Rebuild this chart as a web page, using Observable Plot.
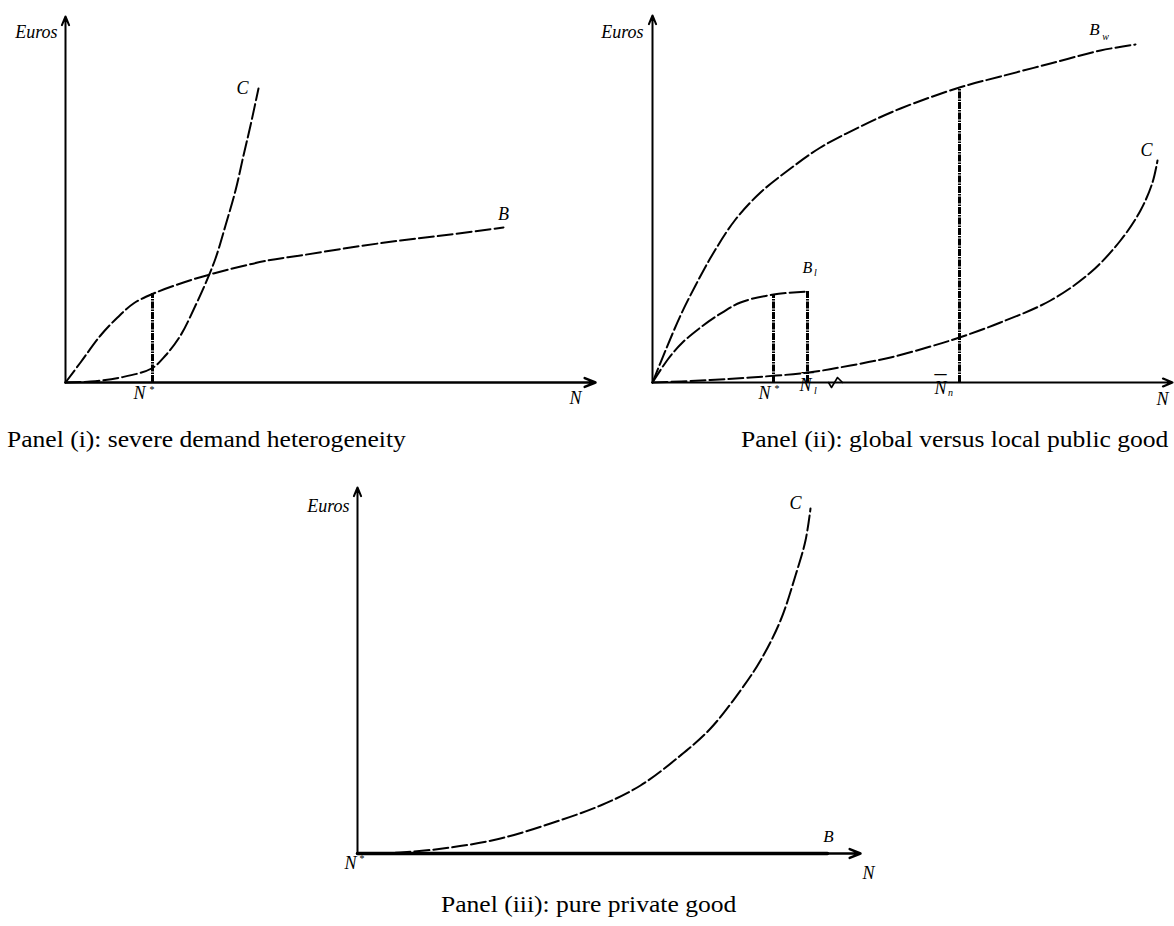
<!DOCTYPE html>
<html><head><meta charset="utf-8">
<script src="https://cdn.jsdelivr.net/npm/d3@7"></script>
<script src="https://cdn.jsdelivr.net/npm/@observablehq/plot@0.6"></script>
<style>
html,body{margin:0;padding:0;background:#fff;}
#wrap{position:relative;width:1174px;height:926px;overflow:hidden;font-family:"Liberation Serif","Times New Roman",serif;}
#wrap svg{position:absolute;left:0;top:0;}
.cap{position:absolute;font-size:24px;white-space:nowrap;color:#000;line-height:27px;transform:scaleX(1.065);transform-origin:0 0;}
</style></head><body><div id="wrap"></div>
<script>
// ---------- data (arbitrary units: N = number of members, E = euros) ----------
// Panel (i): severe demand heterogeneity
const p1Cost = [[0,0],[25,1],[55,5],[86,14],[100,27],[115,47],[130,77],[140,99],[150,124],[160,157],[170,192],[178,227],[185,257],[193,294]];
const p1Benefit = [[0,0],[15,20],[35,47],[52,65],[68,79],[88,89],[118,100],[148,109],[202,122],[235,127],[285,135],[335,142],[385,148],[438,155]];
const p1Drops = [{n:87, e:89}];
// Panel (ii): global versus local public good
const p2BenefitW = [[0,0],[13,32],[28,67],[43,97],[60,128],[83,163],[108,190],[138,214],[168,235],[208,256],[248,274],[307,295],[348,306],[398,319],[448,332],[483,338]];
const p2Cost = [[0,0],[48,2],[98,5],[156,10],[198,17],[238,25],[278,36],[307,45],[348,60],[398,82],[438,110],[468,142],[488,172],[500,200],[505,222]];
const p2BenefitL = [[0,0],[16,24],[30,40],[48,55],[65,67],[88,80],[121,88],[155,91]];
const p2Drops = [{n:121, e:88},{n:155, e:91},{n:307, e:295}];
const p2Break = [[176,0],[179,-5],[185,5],[190,0]];
// Panel (iii): pure private good
const p3Cost = [[0,0],[43,1],[93,6],[143,15],[193,30],[243,48],[283,68],[323,98],[353,125],[383,163],[403,193],[423,233],[438,278],[448,313],[453,345]];
const p3Benefit = [[0,0],[470,0]];
// captions
const captions = ["Panel (i): severe demand heterogeneity","Panel (ii): global versus local public good","Panel (iii): pure private good"];

// ---------- drawing ----------
const W = 1174, H = 926;
const FF = '"Liberation Serif","Times New Roman",serif';
const wrap = document.getElementById("wrap");
const curveStyle = {x: d => d[0], y: d => d[1], curve: "catmull-rom", stroke: "#000", strokeWidth: 2, strokeDasharray: "15,4"};
const dropStyle = {stroke: "#000", strokeWidth: 3, strokeDasharray: "7,1,1.5,1"};
const it = (size) => ({fontFamily: FF, fontStyle: "italic", fontSize: size, fill: "#000", lineAnchor: "middle"});

function axes(xMax, yMax, xw) {
  return [
    Plot.arrow([{x1:0,y1:0,x2:0,y2:yMax}], {x1:"x1",y1:"y1",x2:"x2",y2:"y2", stroke:"#000", strokeWidth:2, headLength:7, headAngle:45}),
    Plot.arrow([{x1:0,y1:0,x2:xMax,y2:0}], {x1:"x1",y1:"y1",x2:"x2",y2:"y2", stroke:"#000", strokeWidth:xw, headLength:7, headAngle:45})
  ];
}
function panel(ox, oy, xMax, yMax, xw, marks) {
  const svg = Plot.plot({
    width: W, height: H,
    marginLeft: ox, marginRight: W - ox - xMax, marginTop: oy - yMax, marginBottom: H - oy,
    x: {domain: [0, xMax], axis: null},
    y: {domain: [0, yMax], axis: null},
    style: {overflow: "visible", background: "transparent", fontFamily: FF},
    marks: [...axes(xMax, yMax, xw), ...marks]
  });
  wrap.appendChild(svg);
}
const last = a => [a[a.length-1]];
const axisLabels = (eDx, eDy, nDx, nDy) => [
  Plot.text(["Euros"], {frameAnchor: "top-left", text: d => d, textAnchor: "end", dx: eDx, dy: eDy, ...it(18)}),
  Plot.text(["N"], {frameAnchor: "bottom-right", text: d => d, textAnchor: "middle", dx: nDx, dy: nDy, ...it(18)})
];

// Panel (i)
panel(65, 382, 530, 366, 2.5, [
  Plot.line(p1Cost, curveStyle),
  Plot.line(p1Benefit, curveStyle),
  Plot.ruleX(p1Drops, {x: "n", y1: () => 0, y2: "e", ...dropStyle}),
  ...axisLabels(-8, 16, -20, 16),
  Plot.text(last(p1Cost), {x: d => d[0], y: d => d[1], text: () => "C", dx: -16, dy: 0, ...it(18)}),
  Plot.text(last(p1Benefit), {x: d => d[0], y: d => d[1], text: () => "B", dx: 0, dy: -13, ...it(18)}),
  Plot.text(p1Drops, {x: "n", y: () => 0, text: () => "N", dx: -13, dy: 11, ...it(18)}),
  Plot.text(p1Drops, {x: "n", y: () => 0, text: () => "*", dx: -1, dy: 7, ...it(10)})
]);

// Panel (ii)
panel(652, 382, 520, 367, 2.2, [
  Plot.line(p2BenefitW, curveStyle),
  Plot.line(p2Cost, curveStyle),
  Plot.line(p2BenefitL, curveStyle),
  Plot.ruleX(p2Drops, {x: "n", y1: () => 0, y2: "e", ...dropStyle}),
  Plot.line(p2Break, {x: d => d[0], y: d => d[1], stroke: "#000", strokeWidth: 1.6}),
  ...axisLabels(-9, 17, -10, 17),
  Plot.text(last(p2BenefitW), {x: d => d[0], y: d => d[1], text: () => "B", dx: -41, dy: -15, ...it(17)}),
  Plot.text(last(p2BenefitW), {x: d => d[0], y: d => d[1], text: () => "w", dx: -30, dy: -8, ...it(10)}),
  Plot.text(last(p2Cost), {x: d => d[0], y: d => d[1], text: () => "C", dx: -11, dy: -10, ...it(18)}),
  Plot.text(last(p2BenefitL), {x: d => d[0], y: d => d[1], text: () => "B", dx: 0, dy: -24, ...it(16)}),
  Plot.text(last(p2BenefitL), {x: d => d[0], y: d => d[1], text: () => "l", dx: 8, dy: -19, ...it(10)}),
  Plot.text([p2Drops[0]], {x: "n", y: () => 0, text: () => "N", dx: -9, dy: 11, ...it(18)}),
  Plot.text([p2Drops[0]], {x: "n", y: () => 0, text: () => "*", dx: 3, dy: 6, ...it(10)}),
  Plot.text([p2Drops[1]], {x: "n", y: () => 0, text: () => "N", dx: -2, dy: 3, ...it(18)}),
  Plot.text([p2Drops[1]], {x: "n", y: () => 0, text: () => "_", dx: 0, dy: -20, fontFamily: FF, fontSize: 24, lineAnchor: "middle"}),
  Plot.text([p2Drops[1]], {x: "n", y: () => 0, text: () => "l", dx: 8, dy: 8, ...it(10)}),
  Plot.text([p2Drops[2]], {x: "n", y: () => 0, text: () => "N", dx: -19, dy: 6, ...it(18)}),
  Plot.text([p2Drops[2]], {x: "n", y: () => 0, text: () => "_", dx: -19, dy: -18, fontFamily: FF, fontSize: 24, lineAnchor: "middle"}),
  Plot.text([p2Drops[2]], {x: "n", y: () => 0, text: () => "n", dx: -9, dy: 10, ...it(10)})
]);

// Panel (iii)
panel(357, 853, 503, 366, 2.5, [
  Plot.line(p3Cost, curveStyle),
  Plot.line(p3Benefit, {x: d => d[0], y: d => d[1], stroke: "#000", strokeWidth: 3.5}),
  ...axisLabels(-8, 19, 8, 20),
  Plot.text(last(p3Cost), {x: d => d[0], y: d => d[1], text: () => "C", dx: -15, dy: -5, ...it(18)}),
  Plot.text(last(p3Benefit), {x: d => d[0], y: d => d[1], text: () => "B", dx: 1, dy: -17, ...it(17)}),
  Plot.text([0], {x: () => 0, y: () => 0, text: () => "N", dx: -7, dy: 10, ...it(18)}),
  Plot.text([0], {x: () => 0, y: () => 0, text: () => "*", dx: 4, dy: 5, ...it(10)})
]);

// captions
const capPos = [{left: 7, top: 426}, {left: 741, top: 426}, {left: 441, top: 891}];
captions.forEach((t, i) => {
  const d = document.createElement("div");
  d.className = "cap";
  d.textContent = t;
  d.style.left = capPos[i].left + "px";
  d.style.top = capPos[i].top + "px";
  wrap.appendChild(d);
});
</script></body></html>
